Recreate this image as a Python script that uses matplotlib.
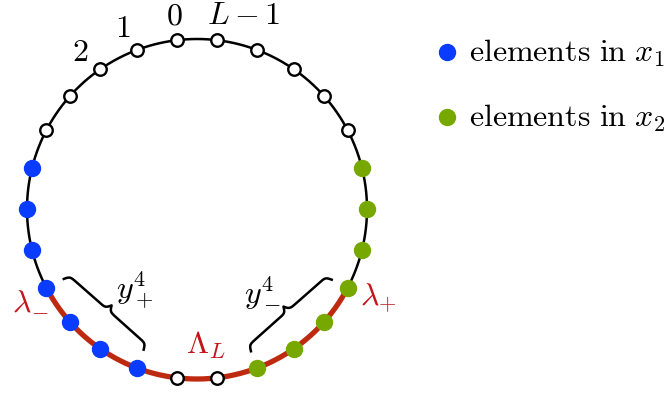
import numpy as np
import matplotlib
matplotlib.use("Agg")
import matplotlib.pyplot as plt

plt.rcParams['mathtext.fontset'] = 'cm'
plt.rcParams['font.family'] = ['DejaVu Serif']

# ---- data ----
n_nodes = 26
x1_nodes = [5, 6, 7, 8, 9, 10, 11]
x2_nodes = [14, 15, 16, 17, 18, 19, 20]
lambda_minus = 8
lambda_plus = 17
brace_plus = (8, 11)
brace_minus = (14, 17)
node_labels = {0: r'$0$', 1: r'$1$', 2: r'$2$', 25: r'$L-1$'}
legend_labels = [r'$\mathrm{elements\ in}\ x_1$', r'$\mathrm{elements\ in}\ x_2$']

BLUE = '#0a3cff'
GREEN = '#76a800'
RED_ARC = '#bd2a10'
RED_TXT = '#c3161c'
FS = 23

def ang(k):
    return np.deg2rad(90 + (k + 0.5) * 360.0 / n_nodes)

def pos(k, r=1.0):
    a = ang(k)
    return np.array([r * np.cos(a), r * np.sin(a)])

def px(x, y):
    # pixel placement -> data units (for label placement only)
    return (x - 197) / 170, (209 - y) / 170

fig = plt.figure(figsize=(6.72, 3.94), dpi=100)
ax = fig.add_axes([0, 0, 1, 1])
ax.set_xlim(-197 / 170, (672 - 197) / 170)
ax.set_ylim((209 - 394) / 170, 209 / 170)
ax.set_aspect('equal')
ax.axis('off')

# circle
t = np.linspace(0, 2 * np.pi, 600)
ax.plot(np.cos(t), np.sin(t), color='black', lw=1.8, zorder=1)

# red arc
ta = np.linspace(ang(lambda_minus), ang(lambda_plus), 300)
ax.plot(np.cos(ta), np.sin(ta), color=RED_ARC, lw=3.8, zorder=2, solid_capstyle='butt')

# nodes
for k in range(n_nodes):
    p = pos(k)
    if k in x1_nodes:
        ax.plot(*p, 'o', ms=11.5, mfc=BLUE, mec=BLUE, zorder=4)
    elif k in x2_nodes:
        ax.plot(*p, 'o', ms=11.5, mfc=GREEN, mec=GREEN, zorder=4)
    else:
        ax.plot(*p, 'o', ms=9, mfc='white', mec='black', mew=1.7, zorder=4)

# node labels
lab_off = {0: (1, 0), 1: (-5, -2), 2: (-6, -4), 25: (23, 0)}
for k, s in node_labels.items():
    p = pos(k, 1.145)
    dx, dy = lab_off[k]
    ax.annotate(s, p, xytext=(dx, dy), textcoords='offset pixels',
                ha='center', va='center', fontsize=FS)

# brace
def brace(k0, k1, r, h, k_sharp=110.0):
    p0, p1 = pos(k0, r), pos(k1, r)
    d = p1 - p0
    L = np.linalg.norm(d)
    e = d / L
    nrm = np.array([-e[1], e[0]])
    mid = (p0 + p1) / 2
    if np.dot(nrm, -mid) < 0:
        nrm = -nrm
    s = np.linspace(0, L / 2, 200)
    v = 1 / (1 + np.exp(-k_sharp * s)) + 1 / (1 + np.exp(-k_sharp * (s - L / 2))) - 0.5
    v = np.concatenate([v, v[-2::-1]])
    ss = np.concatenate([s, L - s[-2::-1]])
    pts = p0[None, :] + ss[:, None] * e[None, :] + (h * v)[:, None] * nrm[None, :]
    ax.plot(pts[:, 0], pts[:, 1], color='black', lw=1.8, zorder=3)

brace(*brace_plus, r=0.885, h=0.07)
brace(*brace_minus, r=0.895, h=0.07)

ax.text(-0.365, -0.476, r'$y_+^4$', fontsize=FS, ha='center', va='center')
ax.text(0.385, -0.49, r'$y_-^4$', fontsize=FS, ha='center', va='center')

# lambda labels (lambda_- drawn as lambda + small minus: mathtext drops a lone "-" subscript)
ax.text(*px(22, 312), r'$\lambda$', fontsize=FS, color=RED_TXT,
        ha='center', va='baseline', zorder=6)
ax.text(*px(39.5, 317), r'$-$', fontsize=16, color=RED_TXT,
        ha='center', va='baseline', zorder=6)
pp = pos(lambda_plus) + np.array([0.18, -0.06])
ax.text(pp[0], pp[1], r'$\lambda_{+}$', fontsize=FS, color=RED_TXT,
        ha='center', va='center', zorder=6)
ax.text(0.05, -0.8, r'$\Lambda_L$', fontsize=FS, color=RED_TXT, ha='center', va='center')

# legend (manual)
leg_colors = [BLUE, GREEN]
leg_dot_y = [(209 - 52) / 170, (209 - 117) / 170]
leg_base_y = [(209 - 61.5) / 170, (209 - 127) / 170]
for c, yd, yb, lab in zip(leg_colors, leg_dot_y, leg_base_y, legend_labels):
    ax.plot((447 - 197) / 170, yd, 'o', ms=11.5, mfc=c, mec=c)
    ax.text((469 - 197) / 170, yb, lab, fontsize=FS, ha='left', va='baseline')

fig.savefig('out.png', dpi=100)
